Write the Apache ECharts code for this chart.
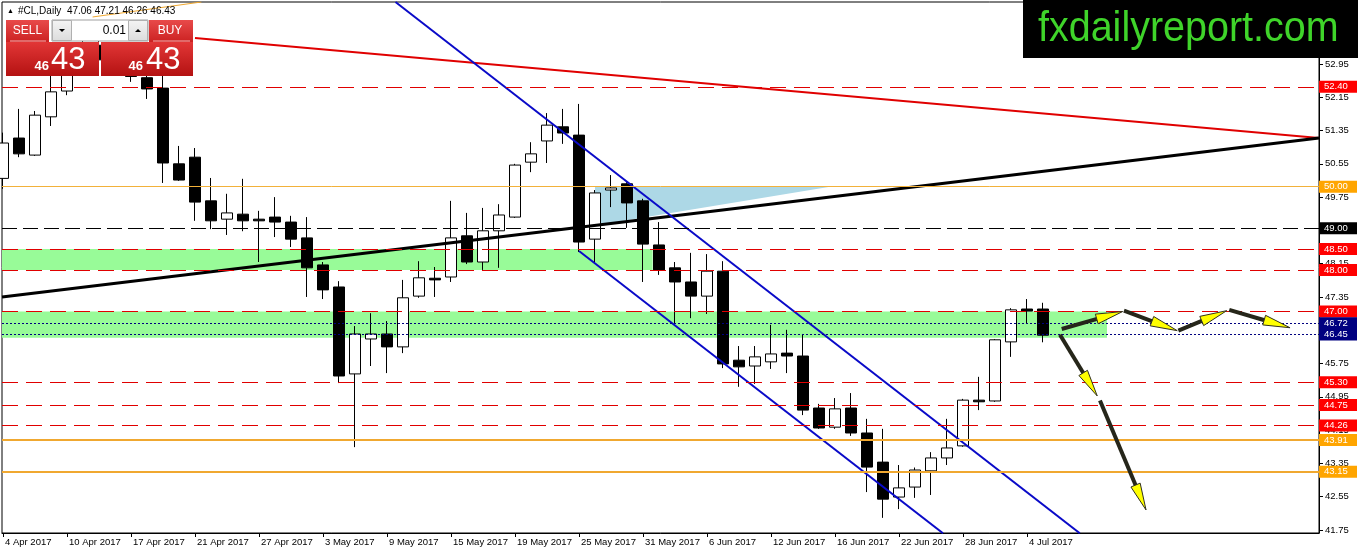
<!DOCTYPE html>
<html><head><meta charset="utf-8">
<script src="https://cdn.jsdelivr.net/npm/echarts@6/dist/echarts.min.js"></script>
<style>html,body{margin:0;padding:0;background:#fff;overflow:hidden}#c{width:1358px;height:554px}</style>
</head><body><div id="c"></div>
<script>
const dates = ['4 Apr 2017','5 Apr 2017','6 Apr 2017','7 Apr 2017','10 Apr 2017','11 Apr 2017','12 Apr 2017','13 Apr 2017','17 Apr 2017','18 Apr 2017','19 Apr 2017','20 Apr 2017','21 Apr 2017','24 Apr 2017','25 Apr 2017','26 Apr 2017','27 Apr 2017','28 Apr 2017','1 May 2017','2 May 2017','3 May 2017','4 May 2017','5 May 2017','8 May 2017','9 May 2017','10 May 2017','11 May 2017','12 May 2017','15 May 2017','16 May 2017','17 May 2017','18 May 2017','19 May 2017','22 May 2017','23 May 2017','24 May 2017','25 May 2017','26 May 2017','29 May 2017','30 May 2017','31 May 2017','1 Jun 2017','2 Jun 2017','5 Jun 2017','6 Jun 2017','7 Jun 2017','8 Jun 2017','9 Jun 2017','12 Jun 2017','13 Jun 2017','14 Jun 2017','15 Jun 2017','16 Jun 2017','19 Jun 2017','20 Jun 2017','21 Jun 2017','22 Jun 2017','23 Jun 2017','26 Jun 2017','27 Jun 2017','28 Jun 2017','29 Jun 2017','30 Jun 2017','3 Jul 2017','4 Jul 2017','5 Jul 2017'];
const openP = [50.20,51.17,50.76,51.68,52.30,53.10,53.40,53.05,52.95,52.62,52.37,50.55,50.71,49.66,49.22,49.34,49.22,49.27,49.15,48.77,48.12,47.59,45.50,46.34,46.46,46.15,47.37,47.80,47.83,48.82,48.19,48.94,49.27,50.59,51.10,51.44,51.24,48.74,49.92,50.07,49.66,48.60,48.05,47.71,47.37,47.97,45.83,45.69,45.79,46.00,45.93,44.68,44.22,44.68,44.08,43.38,42.54,42.78,43.17,43.48,43.77,44.87,44.85,46.27,47.06,47.06];
const highP = [51.30,51.87,51.82,52.70,53.30,53.76,53.55,53.35,53.20,52.90,52.70,50.98,50.93,50.21,49.83,50.19,49.42,49.75,49.30,49.27,48.19,47.73,46.65,46.96,46.77,47.76,48.21,48.07,49.66,49.37,49.49,49.58,50.55,51.07,51.77,51.87,51.99,49.92,50.28,50.11,49.71,49.15,48.19,48.41,48.38,48.21,46.17,46.17,46.68,46.56,46.46,44.78,44.92,45.04,44.42,44.18,43.31,43.25,43.62,44.42,44.90,45.43,46.34,47.08,47.30,47.21];
const lowP = [49.95,50.71,50.74,51.46,52.20,52.80,52.90,52.85,52.52,52.11,50.09,50.14,49.18,48.98,48.84,48.93,48.19,48.79,48.55,47.35,47.30,45.28,43.74,45.69,45.52,46.00,47.33,47.35,47.71,48.14,48.00,48.05,49.25,50.35,50.57,51.03,48.43,48.17,49.51,49.01,47.71,47.88,46.72,46.84,46.94,45.64,45.19,45.26,45.62,45.52,44.51,44.18,44.18,44.01,42.66,42.04,42.25,42.52,42.59,43.31,43.75,44.63,44.83,45.91,46.72,46.26];
const closeP = [51.05,50.79,51.72,52.28,53.10,53.40,53.05,53.20,52.65,52.35,50.57,50.16,49.63,49.18,49.37,49.18,49.18,49.15,48.74,48.05,47.52,45.45,46.46,46.46,46.15,47.33,47.81,47.76,48.77,48.19,48.94,49.32,50.52,50.79,51.48,51.29,48.67,49.85,49.97,49.61,48.62,48.00,47.71,47.37,47.97,45.74,45.67,45.91,45.98,45.93,44.63,44.20,44.66,44.08,43.26,42.49,42.76,43.19,43.48,43.72,44.87,44.83,46.32,47.04,47.01,46.43];

const yTicks = [41.75,42.55,43.35,44.15,44.95,45.75,46.55,47.35,48.15,48.95,49.75,50.55,51.35,52.15,52.95];
const xTickIdx = [0,4,8,12,16,20,24,28,32,36,40,44,48,52,56,60,64];

const redLevels = [52.40,48.50,48.00,47.00,45.30,44.75,44.26];
const orangeThin = [50.00];
const orangeThick = [43.91,43.15];
const blackLevels = [49.00];
const navyLevels = [46.72,46.45];

const greenZones = [[-0.0625,48.50,40.6,48.00],[-0.0625,47.00,69.0,46.37]];
const blueTriangle = [[37,50.00],[51.69,50.00],[37,49.07]];

const trendBlack = [[-0.0625,47.35],[82.25,51.17]];
const trendRed = [[12.0,53.575],[82.25,51.17]];
const trendOrange = [[5.6,54.08],[12.4,54.44]];
const channelUpper = [[24.53,54.44],[67.3,41.67]];
const channelLower = [[36.0,48.455],[58.75,41.67]];

const arrows = [
  [66.17,46.58,69.98,47.00],
  [70.06,47.02,73.39,46.54],
  [73.46,46.54,76.48,47.02],
  [76.64,47.04,80.44,46.61],
  [66.06,46.44,68.39,44.97],
  [68.56,44.86,71.44,42.23]
];

const FONT = 'Liberation Sans';
const chart = echarts.init(document.getElementById('c'), null, {renderer:'canvas'});

function tagLine(v, color, type, width, tagBg){
  return {
    yAxis: v,
    lineStyle: {color: color, type: type, width: width, opacity: 1},
    label: {show: true, position: 'end', distance: 0, formatter: v.toFixed(2),
      color: '#fff', backgroundColor: tagBg, fontFamily: FONT, fontSize: 9.5,
      lineHeight: 11, width: 31, padding: [1,2,0,5]}
  };
}
const lineMarks = [];
redLevels.forEach(v => lineMarks.push(tagLine(v,'#e00000',[16,8],1,'#ff0000')));
orangeThin.forEach(v => lineMarks.push(tagLine(v,'#f2b13a','solid',1,'#ffa500')));
orangeThick.forEach(v => lineMarks.push(tagLine(v,'#f0a830','solid',2,'#ffa500')));
blackLevels.forEach(v => lineMarks.push(tagLine(v,'#000',[15,6],1,'#000')));
navyLevels.forEach(v => lineMarks.push(tagLine(v,'#000080',[2,2],1,'#000080')));

function seg(points, color, width, z){
  return {type:'line', data: points, symbol:'none', silent:true, z: z,
    lineStyle:{color: color, width: width}, animation:false};
}

const candleData = dates.map((d,i)=>[i, openP[i], closeP[i], lowP[i], highP[i]]);

function redGrad(a,b){ return new echarts.graphic.LinearGradient(0,0,0,1,[{offset:0,color:a},{offset:1,color:b}]); }
const panelEls = [
  {type:'text', x: 7, y: 11, style:{text:'▲', fill:'#000', font:'7px '+FONT, verticalAlign:'middle'}},
  {type:'text', x: 18, y: 11, style:{text:'#CL,Daily  47.06 47.21 46.26 46.43', fill:'#000', font:'10px '+FONT, verticalAlign:'middle'}},
  {type:'rect', shape:{x:6,y:20,width:43,height:22}, style:{fill:redGrad('#e84a4a','#cc2222')}},
  {type:'line', shape:{x1:10,y1:41,x2:46,y2:41}, style:{stroke:'#f4b0b0', lineWidth:1}},
  {type:'text', x: 27.5, y: 31, style:{text:'SELL', fill:'#fff', font:'12px '+FONT, align:'center', verticalAlign:'middle'}},
  {type:'rect', shape:{x:52,y:20,width:96,height:21}, style:{fill:'#fff', stroke:'#a0a0a0', lineWidth:1}},
  {type:'rect', shape:{x:52.5,y:20.5,width:19,height:20}, style:{fill:redGrad('#f4f4f4','#dcdcdc'), stroke:'#b0b0b0', lineWidth:1}},
  {type:'polygon', shape:{points:[[59,29],[65,29],[62,32]]}, style:{fill:'#000'}},
  {type:'text', x: 126, y: 31, style:{text:'0.01', fill:'#000', font:'12px '+FONT, align:'right', verticalAlign:'middle'}},
  {type:'rect', shape:{x:128.5,y:20.5,width:19,height:20}, style:{fill:redGrad('#f4f4f4','#dcdcdc'), stroke:'#b0b0b0', lineWidth:1}},
  {type:'polygon', shape:{points:[[135,32],[141,32],[138,29]]}, style:{fill:'#000'}},
  {type:'rect', shape:{x:149,y:20,width:44,height:22}, style:{fill:redGrad('#e84a4a','#cc2222')}},
  {type:'line', shape:{x1:153,y1:41,x2:190,y2:41}, style:{stroke:'#f4b0b0', lineWidth:1}},
  {type:'text', x: 170, y: 31, style:{text:'BUY', fill:'#fff', font:'12px '+FONT, align:'center', verticalAlign:'middle'}},
  {type:'rect', shape:{x:6,y:42,width:93,height:34}, style:{fill:redGrad('#e23636','#b41212')}},
  {type:'rect', shape:{x:101,y:42,width:92,height:34}, style:{fill:redGrad('#e23636','#b41212')}},
  {type:'text', x: 49, y: 66, style:{text:'46', fill:'#fff', font:'bold 13px '+FONT, align:'right', verticalAlign:'middle'}},
  {type:'text', x: 51, y: 60, style:{text:'43', fill:'#fff', font:'31px '+FONT, align:'left', verticalAlign:'middle'}},
  {type:'text', x: 143, y: 66, style:{text:'46', fill:'#fff', font:'bold 13px '+FONT, align:'right', verticalAlign:'middle'}},
  {type:'text', x: 146, y: 60, style:{text:'43', fill:'#fff', font:'31px '+FONT, align:'left', verticalAlign:'middle'}},
  {type:'rect', shape:{x:1023,y:0,width:335,height:58}, style:{fill:'#000'}},
  {type:'text', x: 1038, y: 29, scaleX: 0.94, style:{text:'fxdailyreport.com', fill:'#3fd42a', font:'42px '+FONT, verticalAlign:'middle'}}
];
panelEls.forEach(e => { e.z = 100; e.zlevel = 1; e.silent = true; });

const option = {
  animation: false,
  backgroundColor: '#fff',
  grid: {left: 2, right: 39, top: 2, bottom: 21, show: true, borderColor: '#000', borderWidth: 1, backgroundColor: 'transparent'},
  xAxis: {
    type: 'value', min: -0.0625, max: 82.25,
    splitLine: {show:false},
    axisLine: {show:true, lineStyle:{color:'#000', width:1}},
    axisTick: {show:true, customValues: xTickIdx, length: 4, lineStyle:{color:'#000'}},
    axisLabel: {customValues: xTickIdx, formatter: v => dates[Math.round(v)] || '',
      align: 'left', margin: 4, padding:[0,0,0,2], color:'#000', fontFamily: FONT, fontSize: 9.5}
  },
  yAxis: {
    type: 'value', position: 'right', min: 41.676, max: 54.44, scale: true,
    splitLine: {show:false},
    axisLine: {show:true, onZero:false, lineStyle:{color:'#000', width:1}},
    axisTick: {show:true, customValues: yTicks, length: 4, lineStyle:{color:'#000'}},
    axisLabel: {customValues: yTicks, formatter: v => v.toFixed(2), margin: 6,
      color:'#000', fontFamily: FONT, fontSize: 9.5}
  },
  series: [
    {type:'line', data:[[-100,-100]], symbol:'none', silent:true, clip:false, z:1,
      markArea: {silent:true, itemStyle:{color:'#98fb98'},
        data: greenZones.map(g=>[{coord:[g[0],g[1]]},{coord:[g[2],g[3]]}])}},
    {type:'custom', data:[[0,50]], silent:true, z:1, clip:true,
      renderItem: (params, api) => ({type:'polygon', shape:{points: blueTriangle.map(p=>api.coord(p))},
        style:{fill:'#add8e6'}})},
    {type:'candlestick', data: candleData, encode:{x:0, y:[1,2,3,4]}, barWidth: 11, z:2, silent:true,
      itemStyle:{color:'#fff', color0:'#000', borderColor:'#000', borderColor0:'#000', borderWidth:1}},
    {type:'line', data:[[-100,-100]], symbol:'none', silent:true, clip:false, z:3,
      markLine: {silent:true, symbol:['none','none'], animation:false, data: lineMarks}},
    seg(trendOrange,'#f0a830',1,4),
    seg(trendRed,'#e00000',2,4),
    seg(trendBlack,'#000',3,4),
    seg(channelUpper,'#0a0ac8',2,4),
    seg(channelLower,'#0a0ac8',2,4),
    {type:'custom', data: arrows, encode:{x:[0,2], y:[1,3]}, silent:true, z:5,
      renderItem: (params, api) => {
        const p1 = api.coord([api.value(0), api.value(1)]);
        const p2 = api.coord([api.value(2), api.value(3)]);
        const dx = p2[0]-p1[0], dy = p2[1]-p1[1];
        const L = Math.sqrt(dx*dx+dy*dy);
        const ux = dx/L, uy = dy/L, nx = -uy, ny = ux;
        const hl = Math.min(27, L*0.6), hw = 5;
        const bx = p2[0]-ux*hl, by = p2[1]-uy*hl;
        return {type:'group', children:[
          {type:'line', shape:{x1:p1[0], y1:p1[1], x2:bx+ux*4, y2:by+uy*4},
            style:{stroke:'#26261a', lineWidth:4}},
          {type:'polygon', shape:{points:[[p2[0],p2[1]],[bx+nx*hw,by+ny*hw],[bx-nx*hw,by-ny*hw]]},
            style:{fill:'#ffff00', stroke:'#303020', lineWidth:1}}
        ]};
      }}
  ],
  graphic: panelEls
};
chart.setOption(option);
</script>
</body></html>
